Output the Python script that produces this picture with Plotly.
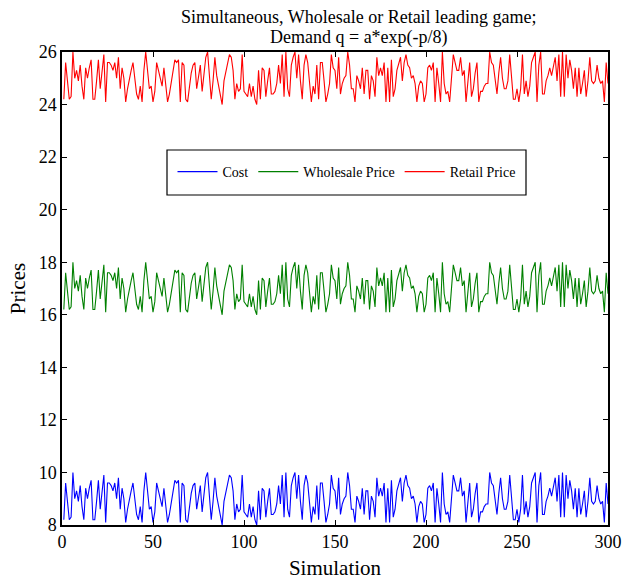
import plotly.graph_objects as go

simulation = list(range(1, 301))

cost = [
    8.2, 9.6, 8.9, 8.2, 8.3, 10.0, 9.0, 9.3, 8.9, 9.5,
    8.7, 8.2, 9.4, 9.0, 9.4, 9.7, 8.2, 8.2, 8.9, 9.7,
    8.6, 9.2, 9.9, 8.1, 9.6, 9.6, 9.5, 9.3, 9.6, 9.0,
    9.8, 8.6, 9.4, 9.0, 8.1, 8.6, 9.0, 9.3, 9.6, 9.0,
    8.4, 8.2, 8.7, 8.1, 9.3, 10.0, 9.3, 8.6, 8.7, 8.1,
    8.5, 9.6, 9.3, 9.0, 8.7, 9.4, 8.6, 8.1, 8.4, 8.9,
    9.3, 9.7, 9.6, 9.7, 8.1, 9.6, 9.5, 8.2, 8.1, 8.7,
    9.2, 9.5, 9.6, 8.6, 9.0, 9.5, 8.5, 9.3, 9.8, 10.0,
    9.2, 8.2, 8.9, 9.8, 9.1, 8.7, 8.3, 8.0, 8.9, 9.2,
    9.6, 9.9, 9.8, 9.3, 8.2, 8.8, 8.5, 8.6, 9.9, 8.5,
    8.4, 8.3, 8.8, 8.3, 8.7, 8.2, 8.0, 9.3, 8.2, 9.4,
    9.3, 8.3, 8.9, 9.4, 8.4, 8.4, 8.5, 8.8, 9.5, 8.8,
    9.9, 8.3, 10.0, 8.6, 8.3, 9.5, 9.8, 10.0, 9.0, 9.9,
    8.9, 8.2, 9.5, 9.9, 9.6, 8.9, 8.1, 8.7, 8.4, 9.5,
    8.2, 9.6, 9.6, 8.9, 8.1, 8.4, 8.8, 9.9, 9.4, 9.3,
    8.6, 9.8, 8.4, 8.8, 9.0, 9.1, 10.0, 9.5, 8.6, 8.6,
    8.1, 9.1, 8.9, 8.6, 9.4, 8.4, 9.3, 9.3, 8.2, 9.1,
    8.9, 8.3, 9.8, 9.1, 9.4, 9.1, 9.6, 8.1, 9.4, 8.1,
    9.7, 8.3, 8.6, 9.3, 9.6, 9.8, 8.9, 9.6, 9.9, 9.5,
    9.4, 9.0, 9.1, 8.8, 8.1, 8.7, 8.9, 8.8, 8.1, 8.4,
    9.4, 9.5, 9.3, 9.6, 8.1, 9.4, 8.8, 8.1, 10.0, 8.8,
    8.4, 8.5, 8.1, 9.1, 9.9, 9.6, 9.3, 9.3, 9.8, 9.1,
    9.3, 8.1, 8.8, 9.6, 8.3, 8.6, 9.2, 9.6, 8.1, 8.5,
    8.5, 8.7, 8.8, 8.8, 10.0, 9.6, 9.5, 8.9, 8.4, 9.2,
    9.8, 9.0, 8.6, 8.6, 8.9, 9.9, 9.1, 8.2, 8.2, 8.6,
    8.1, 8.6, 9.9, 8.4, 8.9, 8.3, 8.7, 9.6, 9.8, 10.0,
    8.1, 9.5, 10.0, 8.4, 8.4, 8.9, 9.1, 9.4, 9.1, 9.4,
    9.8, 8.9, 9.9, 8.3, 10.0, 8.3, 9.9, 9.0, 9.7, 9.3,
    8.6, 9.4, 8.3, 9.4, 8.4, 8.8, 9.3, 8.3, 8.9, 9.8,
    8.9, 8.8, 8.9, 9.5, 9.0, 8.8, 8.9, 8.1, 9.6, 8.8,
]

wholesale = [
    16.2, 17.6, 16.9, 16.2, 16.3, 18.0, 17.0, 17.3, 16.9, 17.5,
    16.7, 16.2, 17.4, 17.0, 17.4, 17.7, 16.2, 16.2, 16.9, 17.7,
    16.6, 17.2, 17.9, 16.1, 17.6, 17.6, 17.5, 17.3, 17.6, 17.0,
    17.8, 16.6, 17.4, 17.0, 16.1, 16.6, 17.0, 17.3, 17.6, 17.0,
    16.4, 16.2, 16.7, 16.1, 17.3, 18.0, 17.3, 16.6, 16.7, 16.1,
    16.5, 17.6, 17.3, 17.0, 16.7, 17.4, 16.6, 16.1, 16.4, 16.9,
    17.3, 17.7, 17.6, 17.7, 16.1, 17.6, 17.5, 16.2, 16.1, 16.7,
    17.2, 17.5, 17.6, 16.6, 17.0, 17.5, 16.5, 17.3, 17.8, 18.0,
    17.2, 16.2, 16.9, 17.8, 17.1, 16.7, 16.3, 16.0, 16.9, 17.2,
    17.6, 17.9, 17.8, 17.3, 16.2, 16.8, 16.5, 16.6, 17.9, 16.5,
    16.4, 16.3, 16.8, 16.3, 16.7, 16.2, 16.0, 17.3, 16.2, 17.4,
    17.3, 16.3, 16.9, 17.4, 16.4, 16.4, 16.5, 16.8, 17.5, 16.8,
    17.9, 16.3, 18.0, 16.6, 16.3, 17.5, 17.8, 18.0, 17.0, 17.9,
    16.9, 16.2, 17.5, 17.9, 17.6, 16.9, 16.1, 16.7, 16.4, 17.5,
    16.2, 17.6, 17.6, 16.9, 16.1, 16.4, 16.8, 17.9, 17.4, 17.3,
    16.6, 17.8, 16.4, 16.8, 17.0, 17.1, 18.0, 17.5, 16.6, 16.6,
    16.1, 17.1, 16.9, 16.6, 17.4, 16.4, 17.3, 17.3, 16.2, 17.1,
    16.9, 16.3, 17.8, 17.1, 17.4, 17.1, 17.6, 16.1, 17.4, 16.1,
    17.7, 16.3, 16.6, 17.3, 17.6, 17.8, 16.9, 17.6, 17.9, 17.5,
    17.4, 17.0, 17.1, 16.8, 16.1, 16.7, 16.9, 16.8, 16.1, 16.4,
    17.4, 17.5, 17.3, 17.6, 16.1, 17.4, 16.8, 16.1, 18.0, 16.8,
    16.4, 16.5, 16.1, 17.1, 17.9, 17.6, 17.3, 17.3, 17.8, 17.1,
    17.3, 16.1, 16.8, 17.6, 16.3, 16.6, 17.2, 17.6, 16.1, 16.5,
    16.5, 16.7, 16.8, 16.8, 18.0, 17.6, 17.5, 16.9, 16.4, 17.2,
    17.8, 17.0, 16.6, 16.6, 16.9, 17.9, 17.1, 16.2, 16.2, 16.6,
    16.1, 16.6, 17.9, 16.4, 16.9, 16.3, 16.7, 17.6, 17.8, 18.0,
    16.1, 17.5, 18.0, 16.4, 16.4, 16.9, 17.1, 17.4, 17.1, 17.4,
    17.8, 16.9, 17.9, 16.3, 18.0, 16.3, 17.9, 17.0, 17.7, 17.3,
    16.6, 17.4, 16.3, 17.4, 16.4, 16.8, 17.3, 16.3, 16.9, 17.8,
    16.9, 16.8, 16.9, 17.5, 17.0, 16.8, 16.9, 16.1, 17.6, 16.8,
]

retail = [
    24.2, 25.6, 24.9, 24.2, 24.3, 26.0, 25.0, 25.3, 24.9, 25.5,
    24.7, 24.2, 25.4, 25.0, 25.4, 25.7, 24.2, 24.2, 24.9, 25.7,
    24.6, 25.2, 25.9, 24.1, 25.6, 25.6, 25.5, 25.3, 25.6, 25.0,
    25.8, 24.6, 25.4, 25.0, 24.1, 24.6, 25.0, 25.3, 25.6, 25.0,
    24.4, 24.2, 24.7, 24.1, 25.3, 26.0, 25.3, 24.6, 24.7, 24.1,
    24.5, 25.6, 25.3, 25.0, 24.7, 25.4, 24.6, 24.1, 24.4, 24.9,
    25.3, 25.7, 25.6, 25.7, 24.1, 25.6, 25.5, 24.2, 24.1, 24.7,
    25.2, 25.5, 25.6, 24.6, 25.0, 25.5, 24.5, 25.3, 25.8, 26.0,
    25.2, 24.2, 24.9, 25.8, 25.1, 24.7, 24.3, 24.0, 24.9, 25.2,
    25.6, 25.9, 25.8, 25.3, 24.2, 24.8, 24.5, 24.6, 25.9, 24.5,
    24.4, 24.3, 24.8, 24.3, 24.7, 24.2, 24.0, 25.3, 24.2, 25.4,
    25.3, 24.3, 24.9, 25.4, 24.4, 24.4, 24.5, 24.8, 25.5, 24.8,
    25.9, 24.3, 26.0, 24.6, 24.3, 25.5, 25.8, 26.0, 25.0, 25.9,
    24.9, 24.2, 25.5, 25.9, 25.6, 24.9, 24.1, 24.7, 24.4, 25.5,
    24.2, 25.6, 25.6, 24.9, 24.1, 24.4, 24.8, 25.9, 25.4, 25.3,
    24.6, 25.8, 24.4, 24.8, 25.0, 25.1, 26.0, 25.5, 24.6, 24.6,
    24.1, 25.1, 24.9, 24.6, 25.4, 24.4, 25.3, 25.3, 24.2, 25.1,
    24.9, 24.3, 25.8, 25.1, 25.4, 25.1, 25.6, 24.1, 25.4, 24.1,
    25.7, 24.3, 24.6, 25.3, 25.6, 25.8, 24.9, 25.6, 25.9, 25.5,
    25.4, 25.0, 25.1, 24.8, 24.1, 24.7, 24.9, 24.8, 24.1, 24.4,
    25.4, 25.5, 25.3, 25.6, 24.1, 25.4, 24.8, 24.1, 26.0, 24.8,
    24.4, 24.5, 24.1, 25.1, 25.9, 25.6, 25.3, 25.3, 25.8, 25.1,
    25.3, 24.1, 24.8, 25.6, 24.3, 24.6, 25.2, 25.6, 24.1, 24.5,
    24.5, 24.7, 24.8, 24.8, 26.0, 25.6, 25.5, 24.9, 24.4, 25.2,
    25.8, 25.0, 24.6, 24.6, 24.9, 25.9, 25.1, 24.2, 24.2, 24.6,
    24.1, 24.6, 25.9, 24.4, 24.9, 24.3, 24.7, 25.6, 25.8, 26.0,
    24.1, 25.5, 26.0, 24.4, 24.4, 24.9, 25.1, 25.4, 25.1, 25.4,
    25.8, 24.9, 25.9, 24.3, 26.0, 24.3, 25.9, 25.0, 25.7, 25.3,
    24.6, 25.4, 24.3, 25.4, 24.4, 24.8, 25.3, 24.3, 24.9, 25.8,
    24.9, 24.8, 24.9, 25.5, 25.0, 24.8, 24.9, 24.1, 25.6, 24.8,
]

series_names = ["Cost", "Wholesale Price", "Retail Price"]
series_colors = ["#0000ff", "#008000", "#ff0000"]
x_ticks = [0, 50, 100, 150, 200, 250, 300]
y_ticks = [8, 10, 12, 14, 16, 18, 20, 22, 24, 26]
title_lines = ["Simultaneous, Wholesale or Retail leading game;", "Demand q = a*exp(-p/8)"]

FONT = "Liberation Serif, Times New Roman, serif"

W, H = 624.0, 580.0
ML, MR, MT, MB = 62, 16, 52, 55
PW, PH = W - ML - MR, H - MT - MB

fig = go.Figure()
for name, vals, col in zip(series_names, [cost, wholesale, retail], series_colors):
    fig.add_trace(go.Scatter(x=simulation, y=vals, mode="lines", name=name,
                             line=dict(color=col, width=1.1)))

axis_common = dict(showgrid=False, zeroline=False, showline=True, linecolor="black",
                   linewidth=1.5, mirror="ticks", ticks="inside", ticklen=5,
                   tickcolor="black", automargin=False,
                   tickfont=dict(family=FONT, size=18, color="black"))

annotations = []
for txt, ypix in zip(title_lines, [17, 37]):
    annotations.append(dict(text=txt, xref="paper", yref="paper",
                            x=(359 - ML) / PW, y=(H - MB - ypix) / PH,
                            xanchor="center", yanchor="middle", showarrow=False,
                            font=dict(family=FONT, size=18, color="black")))

fig.update_layout(
    width=W, height=H,
    margin=dict(l=ML, r=MR, t=MT, b=MB),
    paper_bgcolor="white", plot_bgcolor="white",
    font=dict(family=FONT, color="black"),
    xaxis=dict(range=[0, 300], tickvals=x_ticks,
               title=dict(text="Simulation", font=dict(family=FONT, size=21), standoff=9),
               **axis_common),
    yaxis=dict(range=[8, 26], tickvals=y_ticks,
               title=dict(text="Prices", font=dict(family=FONT, size=21), standoff=7),
               **axis_common),
    showlegend=True,
    legend=dict(orientation="h", x=(346.5 - ML) / PW, xanchor="center",
                y=(H - MB - 172) / PH, yanchor="middle",
                bgcolor="rgba(0,0,0,0)", borderwidth=0, itemwidth=40,
                font=dict(family=FONT, size=14, color="black")),
    annotations=annotations,
    shapes=[dict(type="rect", xref="paper", yref="paper",
                 x0=(167 - ML) / PW, x1=(526 - ML) / PW,
                 y0=(H - MB - 195) / PH, y1=(H - MB - 150) / PH,
                 line=dict(color="black", width=1.2),
                 fillcolor="white", layer="below")],
)

fig.write_html("out.html")
